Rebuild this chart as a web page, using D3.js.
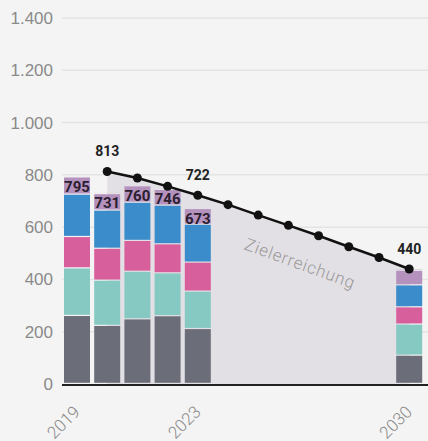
<!DOCTYPE html>
<html>
<head>
<meta charset="utf-8">
<title>Zielerreichung</title>
<script src="https://d3js.org/d3.v7.min.js"></script>
<style>
  body { margin: 0; background: #f4f4f4; }
  svg { display: block; font-family: Roboto, "Open Sans", sans-serif; }
  .ylab { fill: #8a8a8a; font-size: 17px; font-weight: 300; }
  .xlab { fill: #8a8a8a; font-size: 17px; font-weight: 300; }
</style>
</head>
<body>
<script>
// bars
const years = ["2019", "2020", "2021", "2022", "2023", "2030"];
const grey   = [260, 222, 247, 259, 210, 108];
const teal   = [182, 173, 182, 164, 143, 119];
const pink   = [120, 122, 118, 111, 111, 66];
const blue   = [162, 146, 146, 148, 145, 84];
const purple = [66, 63, 63, 60, 60, 56];
const other  = [5, 5, 4, 4, 4, 7];
const labelledBars = ["2019", "2020", "2021", "2022", "2023"];

// target path
const pathYears  = ["2020","2021","2022","2023","2024","2025","2026","2027","2028","2029","2030"];
const pathValues = [813, 788, 756, 722, 686, 646, 607, 567, 525, 484, 440];
const pathLabelled = ["2020", "2023", "2030"];

const allYears = d3.range(2019, 2031).map(String);
const yTicks = [0, 200, 400, 600, 800, 1000, 1200, 1400];
const xTicks = ["2019", "2023", "2030"];

const keys = ["grey", "teal", "pink", "blue", "purple", "other"];
const colors = {grey: "#6b6d79", teal: "#86c9c2", pink: "#d75f9b", blue: "#3a8cca", purple: "#b592bd", other: "#cbc8cd"};
const series = {grey, teal, pink, blue, purple, other};

const W = 428, H = 441;
const svg = d3.select("body").append("svg").attr("width", W).attr("height", H);

const x = d3.scaleBand().domain(allYears).range([62, 424.2]).paddingInner(0.139).paddingOuter(0.066);
const y = d3.scaleLinear().domain([0, 1400]).range([384, 18]);
const de = d3.formatLocale({decimal: ",", thousands: ".", grouping: [3], currency: ["", "€"]});
const fmt = de.format(",.0f");
const cx = d => x(d) + x.bandwidth() / 2;

// grid
svg.append("g").selectAll("line").data(yTicks.slice(1)).join("line")
  .attr("x1", 62).attr("x2", W)
  .attr("y1", d => y(d)).attr("y2", d => y(d))
  .attr("stroke", "#e3e3e3").attr("stroke-width", 1.5);

// y axis
const yAxis = svg.append("g").attr("transform", "translate(62,0)")
  .call(d3.axisLeft(y).tickValues(yTicks).tickFormat(fmt).tickSize(0).tickPadding(9));
yAxis.select(".domain").remove();
yAxis.selectAll("text").attr("class", "ylab").attr("fill", null).attr("font-family", null).attr("font-size", null);

// target area
const pts = pathYears.map((d, i) => ({year: d, v: pathValues[i]}));
svg.append("path").datum(pts)
  .attr("fill", "#e3e0e5")
  .attr("d", d3.area().x(d => cx(d.year)).y0(y(0)).y1(d => y(d.v)));

// Zielerreichung label
svg.append("text")
  .attr("transform", "translate(298,269) rotate(20)")
  .attr("text-anchor", "middle")
  .attr("fill", "#999")
  .attr("font-size", 17)
  .attr("font-weight", 300)
  .attr("letter-spacing", 0.8)
  .text("Zielerreichung");

// stacked bars
const table = years.map((yr, i) => {
  const o = {year: yr};
  keys.forEach(k => o[k] = series[k][i]);
  return o;
});
const stacked = d3.stack().keys(keys)(table);
svg.append("g").selectAll("g").data(stacked).join("g")
  .attr("fill", d => colors[d.key])
  .selectAll("rect").data(d => d).join("rect")
  .attr("x", d => x(d.data.year))
  .attr("width", x.bandwidth())
  .attr("y", d => y(d[1]))
  .attr("height", d => Math.max(0, y(d[0]) - y(d[1]) - 1.2));

// totals inside bars
svg.append("g").selectAll("text").data(table.filter(d => labelledBars.includes(d.year))).join("text")
  .attr("x", d => cx(d.year))
  .attr("y", d => y(d3.sum(keys, k => d[k])) + 15.5)
  .attr("text-anchor", "middle")
  .attr("font-size", 15).attr("font-weight", 700).attr("fill", "#2a2030")
  .text(d => fmt(d3.sum(keys, k => d[k])));

// x axis
svg.append("line").attr("x1", 62).attr("x2", W).attr("y1", 385).attr("y2", 385)
  .attr("stroke", "#222").attr("stroke-width", 2);
svg.append("g").selectAll("text").data(xTicks).join("text")
  .attr("class", "xlab")
  .attr("text-anchor", "end")
  .attr("transform", d => `translate(${cx(d) + 4},413) rotate(-45)`)
  .text(d => d);

// target line
svg.append("path").datum(pts)
  .attr("fill", "none").attr("stroke", "#111").attr("stroke-width", 2.5)
  .attr("d", d3.line().x(d => cx(d.year)).y(d => y(d.v)));
svg.append("g").selectAll("circle").data(pts).join("circle")
  .attr("cx", d => cx(d.year)).attr("cy", d => y(d.v)).attr("r", 4.5).attr("fill", "#111");
svg.append("g").selectAll("text").data(pts.filter(d => pathLabelled.includes(d.year))).join("text")
  .attr("x", d => cx(d.year))
  .attr("y", d => y(d.v) - 15)
  .attr("text-anchor", "middle")
  .attr("font-size", 14).attr("font-weight", 700).attr("fill", "#222")
  .text(d => fmt(d.v));
</script>
</body>
</html>
